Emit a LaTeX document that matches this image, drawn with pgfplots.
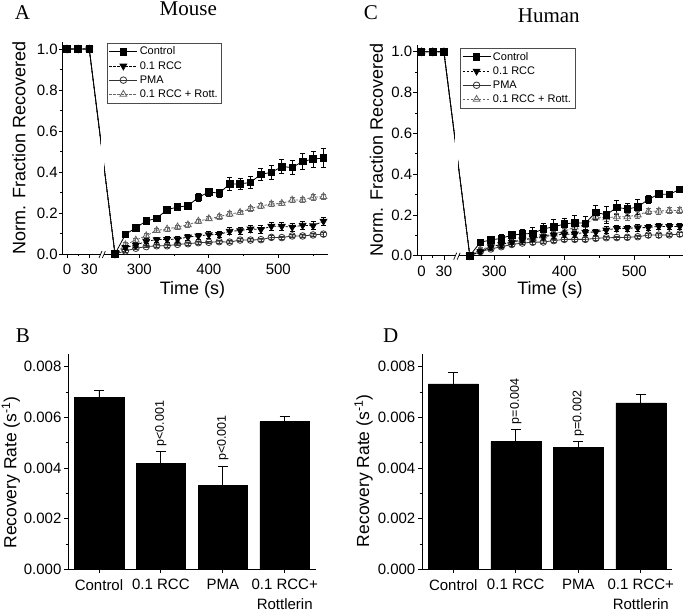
\documentclass[border=0pt]{standalone}
\usepackage{fontspec}
\setmainfont{Liberation Sans}
\newfontfamily\timesfont{Liberation Serif}
\usepackage{pgfplots}
\usepackage{pgfplotstable}
\pgfplotsset{compat=1.18}

% x position u: pre-bleach 0,15,30 s drawn at 196,212,228; post-bleach at real time (s)
\pgfplotstableread{
u   ctl   ctle  rcc   rcce  pma   pmae  rot   rote
196 1     0.008 1     0.008 1     0.008 1     0.008
212 1     0.008 1     0.008 1     0.008 1     0.008
228 1     0.008 1     0.008 1     0.008 1     0.008
265 0     0.003 0     0.003 0     0.003 0     0.003
280 0.095 0.010 0.032 0.010 0.015 0.006 0.045 0.010
295 0.128 0.010 0.043 0.012 0.028 0.006 0.068 0.010
310 0.161 0.012 0.062 0.012 0.036 0.006 0.089 0.010
325 0.174 0.010 0.070 0.012 0.040 0.006 0.115 0.010
340 0.216 0.014 0.071 0.014 0.040 0.006 0.122 0.010
355 0.229 0.012 0.072 0.014 0.047 0.007 0.132 0.010
370 0.235 0.015 0.083 0.015 0.050 0.007 0.142 0.010
385 0.276 0.020 0.088 0.015 0.055 0.007 0.160 0.010
400 0.302 0.020 0.094 0.016 0.057 0.007 0.172 0.010
415 0.297 0.020 0.095 0.016 0.060 0.007 0.182 0.011
430 0.341 0.032 0.111 0.017 0.058 0.007 0.195 0.011
445 0.342 0.025 0.114 0.018 0.068 0.008 0.203 0.012
460 0.349 0.028 0.122 0.018 0.068 0.008 0.222 0.012
475 0.389 0.030 0.120 0.018 0.070 0.008 0.234 0.012
490 0.398 0.033 0.135 0.018 0.081 0.008 0.244 0.012
505 0.426 0.035 0.135 0.018 0.080 0.008 0.247 0.012
520 0.422 0.035 0.131 0.019 0.088 0.008 0.263 0.013
535 0.451 0.040 0.140 0.019 0.088 0.009 0.264 0.013
550 0.463 0.040 0.138 0.019 0.093 0.009 0.277 0.013
565 0.468 0.045 0.160 0.020 0.097 0.009 0.280 0.013
}\mouse

\pgfplotstableread{
u   ctl   ctle  rcc   rcce  pma   pmae  rot   rote
196 1     0.012 1     0.018 1     0.010 1     0.010
212 1     0.008 1     0.008 1     0.008 1     0.008
228 1     0.010 1     0.010 1     0.010 1     0.010
265 0     0.003 0     0.003 0     0.003 0     0.003
280 0.066 0.015 0.020 0.010 0.020 0.008 0.030 0.010
295 0.077 0.020 0.044 0.012 0.033 0.008 0.045 0.010
310 0.085 0.020 0.055 0.012 0.044 0.008 0.055 0.012
325 0.101 0.020 0.066 0.012 0.055 0.008 0.068 0.012
340 0.106 0.025 0.077 0.013 0.062 0.008 0.080 0.012
355 0.110 0.030 0.085 0.013 0.066 0.008 0.086 0.012
370 0.131 0.030 0.093 0.014 0.067 0.008 0.096 0.013
385 0.142 0.035 0.101 0.014 0.074 0.008 0.106 0.013
400 0.155 0.030 0.105 0.014 0.080 0.008 0.120 0.014
415 0.162 0.035 0.106 0.015 0.080 0.008 0.140 0.015
430 0.159 0.035 0.115 0.015 0.080 0.008 0.152 0.015
445 0.213 0.035 0.116 0.015 0.085 0.008 0.190 0.016
460 0.200 0.040 0.126 0.016 0.088 0.008 0.186 0.016
475 0.237 0.035 0.134 0.016 0.089 0.008 0.191 0.016
490 0.229 0.030 0.134 0.016 0.090 0.008 0.191 0.016
505 0.239 0.035 0.137 0.016 0.093 0.009 0.200 0.016
520 0.276 0.020 0.138 0.016 0.101 0.009 0.216 0.014
535 0.302 0.015 0.144 0.016 0.101 0.009 0.219 0.014
550 0.301 0.015 0.143 0.016 0.102 0.009 0.221 0.014
565 0.325 0.015 0.144 0.016 0.106 0.009 0.222 0.014
}\human

\pgfplotstableread{
x y       e
0 0.00678 0.00029
1 0.00419 0.00046
2 0.00332 0.00076
3 0.00583 0.00019
}\barsmouse

\pgfplotstableread{
x y       e
0 0.00732 0.00047
1 0.00504 0.00049
2 0.00482 0.00022
3 0.00657 0.00033
}\barshuman

\tikzset{
  pval/.style={rotate=90, anchor=west, inner xsep=5pt, inner ysep=0pt, font=\fontsize{12.5}{15}\selectfont},
}

\pgfplotsset{
  base/.style={
    scale only axis,
    axis x line*=bottom, axis y line*=left,
    axis line style={-, line width=0.8pt},
    tick align=outside,
    major tick length=4pt, minor tick length=2.5pt,
    every tick/.style={line width=0.8pt, black},
    tick label style={font=\fontsize{15}{18}\selectfont},
    yticklabel style={inner sep=1pt},
    xticklabel style={yshift=-2.5pt},
    label style={font=\fontsize{17.5}{20}\selectfont},
    clip=false,
  },
  frap/.style={
    base,
    label style={font=\fontsize{18}{21}\selectfont},
    xmin=190, ymin=0, ymax=1.035,
    xtick={196,228,300,400,500}, xticklabels={0,30,300,400,500},
    minor xtick={212,350,450,550},
    ytick={0,0.2,0.4,0.6,0.8,1.0}, yticklabels={0.0,0.2,0.4,0.6,0.8,1.0},
    minor ytick={0.1,0.3,0.5,0.7,0.9},
    xlabel={Time (s)}, ylabel={Norm. Fraction Recovered},
    legend style={anchor=north west, draw=black!70, line width=0.6pt,
      font=\fontsize{11}{13}\selectfont, inner sep=2pt, row sep=1pt},
    legend cell align=left,
    reverse legend,
    legend image code/.code={\draw[mark repeat=2,mark phase=2,##1] plot coordinates {(0pt,0pt) (14pt,0pt) (28pt,0pt)};},
  },
  bars/.style={
    base,
    xmin=-0.5, xmax=3.5, ymin=0, ymax=0.0085,
    xtick={0,1,2,3},
    xticklabels={Control,0.1 RCC,PMA,{0.1 RCC+\\Rottlerin}},
    xticklabel style={align=center, font=\fontsize{15}{20}\selectfont},
    ytick={0,0.002,0.004,0.006,0.008},
    yticklabels={0.000,0.002,0.004,0.006,0.008},
    minor ytick={0.001,0.003,0.005,0.007},
    scaled y ticks=false,
    yticklabel style={xshift=-1.5pt},
    ylabel={Recovery Rate (s\textsuperscript{-1})},
  },
  ebar/.style={error bars/.cd, y dir=both, y explicit,
    error bar style={line width=0.7pt, solid},
    error mark options={rotate=90, mark size=2.5pt, line width=0.7pt, solid}},
  sctl/.style={black, line width=0.8pt, mark=square*, mark size=3.3pt, mark options={solid, fill=black}, ebar},
  srcc/.style={black, line width=0.8pt, dash pattern=on 2.5pt off 1.5pt, mark=triangle*, mark size=3.9pt, mark options={solid, rotate=180, fill=black}, ebar},
  spma/.style={black!80, line width=0.8pt, mark=o, mark size=3.3pt, mark options={solid}, ebar},
  srot/.style={black!60, line width=0.8pt, dash pattern=on 2.5pt off 1.5pt, mark=triangle, mark size=3.9pt, mark options={solid}, ebar},
  barplot/.style={ybar, bar width=0.8, fill=black, draw=black,
    error bars/.cd, y dir=plus, y explicit,
    error bar style={line width=0.9pt, black},
    error mark options={rotate=90, mark size=5pt, line width=0.9pt, black}},
}

\begin{document}
\begin{tikzpicture}[x=1pt,y=1pt]

% ---------- A: Mouse ----------
\begin{axis}[frap, at={(62.85pt,359pt)}, anchor=south west,
  width=265.5pt, height=212.2pt, xmax=572,
  legend style={at={(0.165,0.996)}},
  xlabel style={at={(axis description cs:0.488,-0.193)}, anchor=base},
  ylabel style={at={(axis description cs:-0.165,0.5)}, anchor=center}]
\addplot[srot] table[x=u, y=rot, y error=rote] \mouse;
\addplot[spma] table[x=u, y=pma, y error=pmae] \mouse;
\addplot[srcc] table[x=u, y=rcc, y error=rcce] \mouse;
\addplot[sctl] table[x=u, y=ctl, y error=ctle] \mouse;
\legend{0.1 RCC + Rott., PMA, 0.1 RCC, Control}
\fill[white] (axis cs:244.5,0.30) rectangle (axis cs:248.7,0.70);
\fill[white] (axis cs:244.3,-0.008) rectangle (axis cs:249.0,0.008);
\draw[line width=0.7pt] (axis cs:242,-0.0195) -- (axis cs:246.3,0.0146);
\draw[line width=0.7pt] (axis cs:246.9,-0.0195) -- (axis cs:251.2,0.0146);
\end{axis}

% ---------- C: Human ----------
\begin{axis}[frap, at={(417.3pt,357.3pt)}, anchor=south west,
  width=266pt, height=211.1pt, xmax=570,
  legend style={at={(0.16,0.985)}},
  xlabel style={at={(axis description cs:0.499,-0.186)}, anchor=base},
  ylabel style={at={(axis description cs:-0.154,0.5)}, anchor=center}]
\addplot[srot] table[x=u, y=rot, y error=rote] \human;
\addplot[spma] table[x=u, y=pma, y error=pmae] \human;
\addplot[srcc] table[x=u, y=rcc, y error=rcce] \human;
\addplot[sctl] table[x=u, y=ctl, y error=ctle] \human;
\legend{0.1 RCC + Rott., PMA, 0.1 RCC, Control}
\fill[white] (axis cs:244.5,0.30) rectangle (axis cs:248.7,0.70);
\fill[white] (axis cs:244.3,-0.008) rectangle (axis cs:249.0,0.008);
\draw[line width=0.7pt] (axis cs:242,-0.0195) -- (axis cs:246.3,0.0146);
\draw[line width=0.7pt] (axis cs:246.9,-0.0195) -- (axis cs:251.2,0.0146);
\end{axis}

% ---------- B: Mouse rates ----------
\begin{axis}[bars, at={(68.05pt,43.7pt)}, anchor=south west,
  width=247.6pt, height=215.3pt,
  ylabel style={at={(axis description cs:-0.231,0.45)}, anchor=center}]
\addplot[barplot] table[x=x, y=y, y error=e] \barsmouse;
\node[pval] at (axis cs:1,0.00465) {p<0.001};
\node[pval] at (axis cs:2,0.00408) {p<0.001};
\end{axis}

% ---------- D: Human rates ----------
\begin{axis}[bars, at={(422pt,43.7pt)}, anchor=south west,
  width=250pt, height=215.3pt,
  ylabel style={at={(axis description cs:-0.234,0.457)}, anchor=center}]
\addplot[barplot] table[x=x, y=y, y error=e] \barshuman;
\node[pval] at (axis cs:1,0.00553) {p=0.004};
\node[pval] at (axis cs:2,0.00504) {p=0.002};
\end{axis}

% ---------- panel letters and titles ----------
\node[font=\timesfont\fontsize{21}{24}\selectfont, anchor=base] at (22.5,593) {A};
\node[font=\timesfont\fontsize{21}{24}\selectfont, anchor=base] at (188.3,597.5) {Mouse};
\node[font=\timesfont\fontsize{21}{24}\selectfont, anchor=base] at (370.8,593.7) {C};
\node[font=\timesfont\fontsize{21}{24}\selectfont, anchor=base] at (548.8,590.3) {Human};
\node[font=\timesfont\fontsize{21}{24}\selectfont, anchor=base] at (23,270.3) {B};
\node[font=\timesfont\fontsize{21}{24}\selectfont, anchor=base] at (390.8,270.3) {D};

\pgfresetboundingbox
\path[use as bounding box] (0,0) rectangle (683,613);
\end{tikzpicture}
\end{document}
